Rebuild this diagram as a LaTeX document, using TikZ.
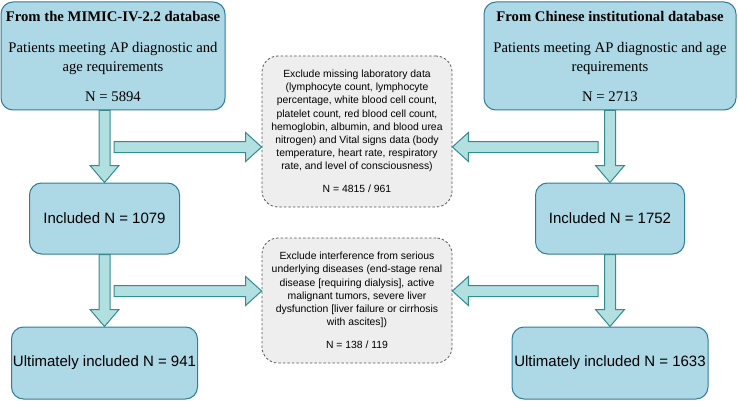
\documentclass[tikz,border=0pt]{standalone}
\usepackage{fontspec}
\setmainfont{Liberation Sans}
\newfontfamily\tnr{Liberation Serif}
\usetikzlibrary{calc}
\definecolor{boxfill}{RGB}{173,216,230}
\definecolor{boxline}{RGB}{46,125,155}
\definecolor{arrfill}{RGB}{178,223,224}
\definecolor{arrline}{RGB}{50,140,145}
\definecolor{grayfill}{RGB}{238,238,238}
\definecolor{grayline}{RGB}{90,90,90}
\tikzset{
  bluebox/.style={draw=boxline, fill=boxfill, line width=1pt, rounded corners=12pt, align=center, inner sep=0pt},
  topfont/.style={font={\tnr\fontsize{14.7}{19}\selectfont}},
  bigsans/.style={font={\fontsize{15}{18}\selectfont}},
  graybox/.style={draw=grayline, fill=grayfill, line width=0.8pt, dash pattern=on 2.5pt off 2pt, rounded corners=16pt, align=center, inner sep=0pt, font={\fontsize{10.4}{13.1}\selectfont}},
  blockarr/.style={draw=arrline, fill=arrfill, line width=1pt, line join=miter},
}
\newcommand\arrdown[2]{\path[blockarr] let \p1=(#1), \p2=(#2) in
  (\x1-5.5pt,\y1) -- (\x1+5.5pt,\y1) -- (\x1+5.5pt,\y2+17pt) -- (\x1+14.5pt,\y2+17pt)
  -- (\x1,\y2) -- (\x1-14.5pt,\y2+17pt) -- (\x1-5.5pt,\y2+17pt) -- cycle;}
\newcommand\arrright[2]{\path[blockarr] let \p1=(#1), \p2=(#2) in
  (\x1,\y1+5.5pt) -- (\x2-16pt,\y1+5.5pt) -- (\x2-16pt,\y1+14.5pt) -- (\x2,\y1)
  -- (\x2-16pt,\y1-14.5pt) -- (\x2-16pt,\y1-5.5pt) -- (\x1,\y1-5.5pt) -- cycle;}
\newcommand\arrleft[2]{\path[blockarr] let \p1=(#1), \p2=(#2) in
  (\x1,\y1+5.5pt) -- (\x2+16pt,\y1+5.5pt) -- (\x2+16pt,\y1+14.5pt) -- (\x2,\y1)
  -- (\x2+16pt,\y1-14.5pt) -- (\x2+16pt,\y1-5.5pt) -- (\x1,\y1-5.5pt) -- cycle;}
\begin{document}
\begin{tikzpicture}[x=1pt,y=-1pt]
\useasboundingbox (0,0) rectangle (738,401);
% top boxes
\node[bluebox, topfont, minimum width=224pt, minimum height=108pt] (tl) at (113,56)
  {\textbf{From the MIMIC-IV-2.2 database}\\[12pt]Patients meeting AP diagnostic and\\age requirements\\[11pt]N = 5894};
\node[bluebox, topfont, minimum width=252pt, minimum height=108pt] (tr) at (610,56)
  {\textbf{From Chinese institutional database}\\[12pt]Patients meeting AP diagnostic and age\\requirements\\[11pt]N = 2713};
% included
\node[bluebox, bigsans, minimum width=150pt, minimum height=71pt] (inl) at (104.5,218.5) {Included N = 1079};
\node[bluebox, bigsans, minimum width=149pt, minimum height=71pt] (inr) at (610,218.5) {Included N = 1752};
% ultimately
\node[bluebox, bigsans, minimum width=186pt, minimum height=72pt] (ul) at (104.5,363) {Ultimately included N = 941};
\node[bluebox, bigsans, minimum width=196pt, minimum height=72pt] (ur) at (610,363) {Ultimately included N = 1633};
% exclusion boxes
\node[graybox, minimum width=190pt, minimum height=151pt] (g1) at (357,131.5)
  {Exclude missing laboratory data\\(lymphocyte count, lymphocyte\\percentage, white blood cell count,\\platelet count, red blood cell count,\\hemoglobin, albumin, and blood urea\\nitrogen) and Vital signs data (body\\temperature, heart rate, respiratory\\rate, and level of consciousness)\\[10.2pt]N = 4815 / 961};
\node[graybox, minimum width=190pt, minimum height=125pt] (g2) at (357,300.5)
  {Exclude interference from serious\\underlying diseases (end-stage renal\\disease [requiring dialysis], active\\malignant tumors, severe liver\\dysfunction [liver failure or cirrhosis\\with ascites])\\[10.2pt]N = 138 / 119};
% branch start coordinates
\coordinate (b1l) at (114,147);
\coordinate (b1r) at (598,147);
\coordinate (b2l) at (114,291);
\coordinate (b2r) at (598,291);
% arrows
\arrdown{inl.north |- tl.south}{inl.north}
\arrdown{inr.north |- tr.south}{inr.north}
\arrdown{inl.south}{ul.north}
\arrdown{inr.south}{ur.north}
\arrright{b1l}{g1.west |- b1l}
\arrleft{b1r}{g1.east |- b1r}
\arrright{b2l}{g2.west |- b2l}
\arrleft{b2r}{g2.east |- b2r}
\end{tikzpicture}
\end{document}
